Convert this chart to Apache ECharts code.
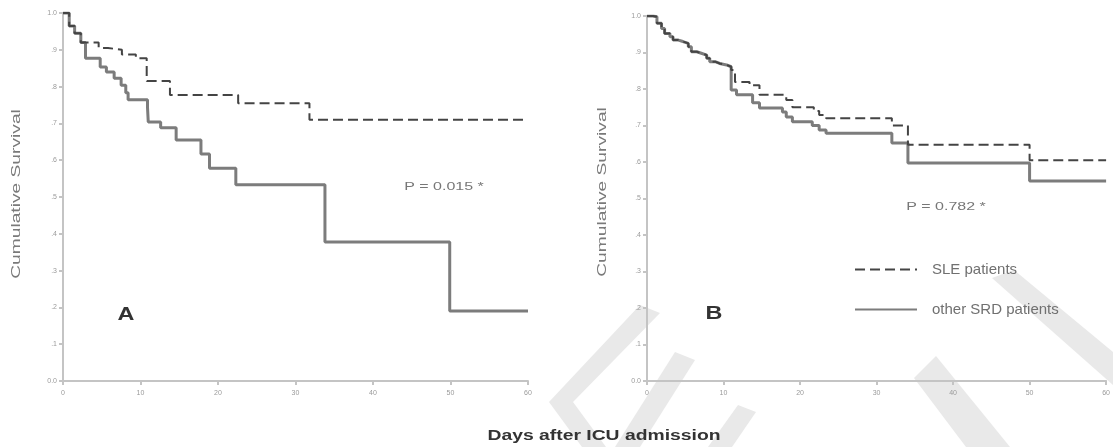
<!DOCTYPE html>
<html><head><meta charset="utf-8">
<script src="https://cdn.jsdelivr.net/npm/echarts@6/dist/echarts.min.js"></script>
<style>html,body{margin:0;padding:0;background:#fff}#c{width:1113px;height:447px}</style>
</head><body><div id="c"></div>
<script>
const xTickLabels = ['0','10','20','30','40','50','60'];
const yTickLabels = ['0.0','.1','.2','.3','.4','.5','.6','.7','.8','.9','1.0'];
const seriesNames = ['SLE patients', 'other SRD patients'];
// Panel A: [day, cumulative survival]
const panelA_sle = [[0,1],[0.8,0.965],[1.5,0.945],[2.3,0.92],[4.6,0.905],[5.8,0.9],[7.6,0.887],[9.4,0.877],[10.8,0.815],[13.8,0.777],[22.6,0.755],[31.8,0.71],[60,0.71]];
const panelA_other = [[0,1],[0.8,0.965],[1.5,0.945],[2.3,0.92],[2.9,0.877],[4.8,0.853],[5.6,0.84],[6.6,0.823],[7.5,0.804],[8.1,0.783],[8.4,0.764],[10.9,0.745],[11,0.704],[12.6,0.688],[14.6,0.655],[17.8,0.617],[18.9,0.578],[22.3,0.533],[33.8,0.378],[49.9,0.19],[60,0.19]];
// Panel B
const panelB_sle = [[0,1],[0.8,0.998],[1.3,0.98],[1.9,0.966],[2.3,0.952],[3,0.943],[3.4,0.934],[4.1,0.93],[4.7,0.925],[5.4,0.916],[5.8,0.902],[6.5,0.898],[7.1,0.893],[7.8,0.884],[8.2,0.875],[8.9,0.87],[9.5,0.866],[10.4,0.861],[11.0,0.852],[11.5,0.819],[13.4,0.81],[14.7,0.784],[18.2,0.77],[19,0.75],[21.8,0.74],[22.5,0.729],[23.4,0.72],[32,0.70],[34.1,0.647],[50,0.605],[60,0.605]];
const panelB_other = [[0,1],[0.8,0.998],[1.3,0.98],[1.9,0.966],[2.3,0.952],[3,0.943],[3.4,0.934],[4.1,0.93],[4.7,0.925],[5.4,0.916],[5.8,0.902],[6.5,0.898],[7.1,0.893],[7.8,0.884],[8.2,0.875],[8.9,0.87],[9.5,0.866],[10.4,0.861],[11.0,0.797],[11.7,0.784],[13.8,0.762],[14.7,0.748],[17.7,0.737],[18.2,0.723],[19,0.71],[21.6,0.70],[22.5,0.688],[23.4,0.679],[32,0.652],[34.1,0.597],[50,0.548],[60,0.548]];
const panelLetters = ['A', 'B'];
const pValues = ['P = 0.015 *', 'P = 0.782 *'];
const xTitle = 'Days after ICU admission';
const yTitle = 'Cumulative Survival';

const chart = echarts.init(document.getElementById('c'), null, {renderer: 'canvas'});
const axisCol = '#c4c4c4';
function xAxis(gi) {
  return {
    type: 'value', gridIndex: gi, min: 0, max: 60, interval: 10,
    axisLine: {lineStyle: {color: axisCol, width: 2}},
    axisTick: {show: true, length: 4, lineStyle: {color: axisCol, width: 2}},
    axisLabel: {fontSize: 7, color: '#9a9a9a', margin: 9,
      formatter: v => xTickLabels[Math.round(v / 10)]},
    splitLine: {show: false}
  };
}
function yAxis(gi) {
  return {
    type: 'value', gridIndex: gi, min: 0, max: 1, interval: 0.1,
    axisLine: {show: true, lineStyle: {color: axisCol, width: 2}},
    axisTick: {show: true, length: 4, lineStyle: {color: axisCol, width: 2}},
    axisLabel: {fontSize: 7, color: '#9a9a9a', margin: 6,
      formatter: v => yTickLabels[Math.round(v * 10)]},
    splitLine: {show: false}
  };
}
const dashStyle = {color: '#444444', width: 2, type: [10, 5]};
const solidStyle = {color: '#7c7c7c', width: 3, type: 'solid'};
function ser(name, gi, data, ls, z) {
  return {name, type: 'line', xAxisIndex: gi, yAxisIndex: gi, data, step: 'end', z: z,
    symbol: 'none', showSymbol: false, lineStyle: ls, itemStyle: {color: ls.color},
    animation: false, silent: true};
}
function txt(text, x, y, size, opts) {
  opts = opts || {};
  return {type: 'text', x, y, z: 10, rotation: opts.rot || 0, scaleX: opts.sx || 1, silent: true,
    style: {text, fill: opts.fill || '#555', font: (opts.bold ? 'bold ' : '') + size + 'px "Liberation Sans", Arial, sans-serif',
      align: 'center', verticalAlign: 'middle', textAlign: 'center', textVerticalAlign: 'middle'}};
}
// light watermark shapes present in the source image
function wm(points) {
  return {type: 'polygon', z: -10, silent: true, shape: {points}, style: {fill: '#e9e9e9'}};
}
chart.setOption({
  animation: false,
  backgroundColor: '#fff',
  grid: [
    {left: 63, top: 13, width: 465, height: 368},
    {left: 647, top: 16, width: 461, height: 365}
  ],
  xAxis: [xAxis(0), xAxis(1)],
  yAxis: [yAxis(0), yAxis(1)],
  legend: {
    data: seriesNames, orient: 'vertical', left: 849, top: 257, itemWidth: 62, itemHeight: 10, itemGap: 25,
    itemStyle: {opacity: 0},
    textStyle: {fontSize: 15, color: '#707070', padding: [0, 0, 0, 10]}, selectedMode: false
  },
  series: [
    ser(seriesNames[1], 0, panelA_other, solidStyle, 2),
    ser(seriesNames[0], 0, panelA_sle, dashStyle, 3),
    ser(seriesNames[1], 1, panelB_other, solidStyle, 2),
    ser(seriesNames[0], 1, panelB_sle, dashStyle, 3)
  ],
  graphic: [
    wm([[640,305],[660,313],[573,402],[606,447],[582,447],[549,402]]),
    wm([[675,352],[695,360],[640,447],[615,447]]),
    wm([[738,405],[756,412],[732,447],[708,447]]),
    wm([[914,378],[936,356],[1010,447],[966,447]]),
    wm([[992,278],[1014,270],[1113,352],[1113,385]]),
    txt(yTitle, 17, 194, 12, {rot: Math.PI / 2, sx: 1.6, fill: '#7a7a7a'}),
    txt(yTitle, 603, 192, 12, {rot: Math.PI / 2, sx: 1.6, fill: '#7a7a7a'}),
    txt(xTitle, 604, 436, 14, {bold: true, sx: 1.38, fill: '#333'}),
    txt(panelLetters[0], 126, 315, 18, {bold: true, sx: 1.3, fill: '#333'}),
    txt(panelLetters[1], 714, 314, 18, {bold: true, sx: 1.3, fill: '#333'}),
    txt(pValues[0], 444, 187, 10, {sx: 1.6, fill: '#777'}),
    txt(pValues[1], 946, 207, 10, {sx: 1.6, fill: '#777'})
  ]
});
</script></body></html>
